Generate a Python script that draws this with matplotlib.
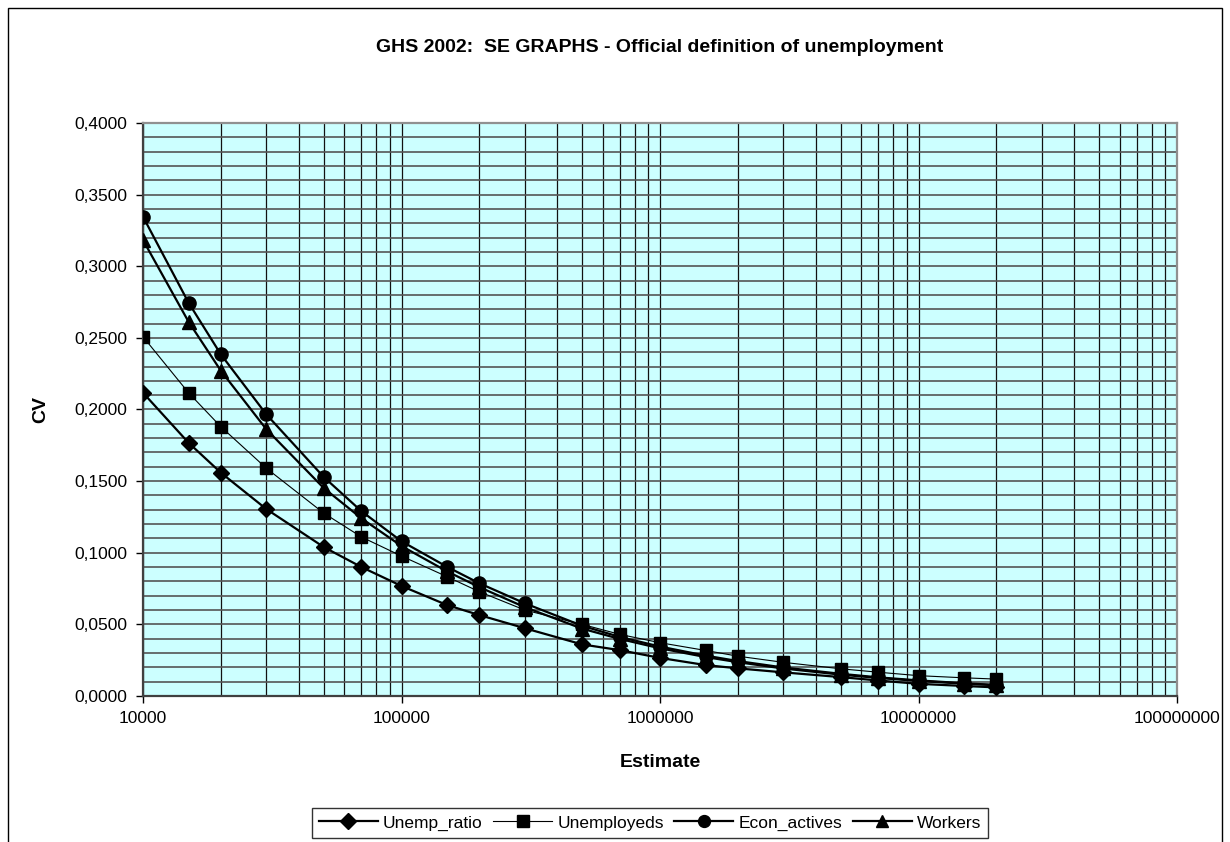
import matplotlib
matplotlib.use("Agg")
import matplotlib.pyplot as plt
from matplotlib.patches import Rectangle
from matplotlib.ticker import FixedLocator, FuncFormatter, LogLocator, MultipleLocator, NullFormatter

plt.rcParams["font.family"] = ["Liberation Sans", "DejaVu Sans"]

# ---------------------------------------------------------------------------
# Data
# ---------------------------------------------------------------------------
estimates = [10000, 15000, 20000, 30000, 50000, 70000, 100000, 150000, 200000,
             300000, 500000, 700000, 1000000, 1500000, 2000000, 3000000,
             5000000, 7000000, 10000000, 15000000, 20000000]

unemp_ratio = [0.2117, 0.1768, 0.1559, 0.1305, 0.1040, 0.0900, 0.0768, 0.0635,
               0.0565, 0.0473, 0.0360, 0.0320, 0.0266, 0.0216, 0.0193, 0.0165,
               0.0132, 0.0108, 0.0085, 0.0070, 0.0060]
unemployeds = [0.2508, 0.2117, 0.1880, 0.1590, 0.1277, 0.1110, 0.0977, 0.0833,
               0.0728, 0.0600, 0.0500, 0.0430, 0.0372, 0.0318, 0.0278, 0.0235,
               0.0190, 0.0166, 0.0142, 0.0127, 0.0118]
econ_actives = [0.3346, 0.2746, 0.2385, 0.1966, 0.1529, 0.1290, 0.1080, 0.0902,
                0.0787, 0.0647, 0.0490, 0.0412, 0.0345, 0.0282, 0.0244, 0.0199,
                0.0155, 0.0130, 0.0109, 0.0089, 0.0077]
workers = [0.3183, 0.2613, 0.2271, 0.1862, 0.1452, 0.1240, 0.1047, 0.0870,
           0.0760, 0.0620, 0.0470, 0.0398, 0.0333, 0.0272, 0.0236, 0.0192,
           0.0149, 0.0126, 0.0105, 0.0086, 0.0075]

x_ticks = [10000, 100000, 1000000, 10000000, 100000000]
y_ticks = [0.0, 0.05, 0.10, 0.15, 0.20, 0.25, 0.30, 0.35, 0.40]

# ---------------------------------------------------------------------------
# Figure
# ---------------------------------------------------------------------------
W, H = 1230, 842
fig = plt.figure(figsize=(W / 100, H / 100), dpi=100)
fig.patches.append(Rectangle((8 / W, -0.05), (1222 - 8) / W, (H - 8) / H + 0.05,
                             transform=fig.transFigure, fill=False,
                             edgecolor="black", lw=1.0, clip_on=False))

ax = fig.add_axes([143 / W, (H - 696) / H, (1177 - 143) / W, (696 - 123) / H])
ax.set_facecolor("#CCFFFF")

ax.plot(estimates, unemp_ratio, color="black", lw=1.6, marker="D", ms=8.5,
        label="Unemp_ratio", zorder=5)
ax.plot(estimates, unemployeds, color="black", lw=0.8, marker="s", ms=9,
        label="Unemployeds", zorder=5)
ax.plot(estimates, econ_actives, color="black", lw=1.6, marker="o", ms=9.5,
        label="Econ_actives", zorder=5)
ax.plot(estimates, workers, color="black", lw=1.6, marker="^", ms=9.5,
        label="Workers", zorder=5)

ax.set_xscale("log")
ax.set_xlim(10000, 100000000)
ax.set_ylim(0, 0.4)

ax.xaxis.set_major_locator(FixedLocator(x_ticks))
ax.xaxis.set_major_formatter(FuncFormatter(lambda v, p: f"{int(round(v))}"))
ax.xaxis.set_minor_locator(LogLocator(base=10, subs=range(2, 10), numticks=20))
ax.xaxis.set_minor_formatter(NullFormatter())
ax.yaxis.set_major_locator(FixedLocator(y_ticks))
ax.yaxis.set_major_formatter(FuncFormatter(lambda v, p: f"{v:.4f}".replace(".", ",")))
ax.yaxis.set_minor_locator(MultipleLocator(0.01))

ax.tick_params(which="major", direction="out", length=5, width=1,
               labelsize=12.5, color="black", pad=6)
ax.tick_params(which="minor", length=0)

ax.grid(axis="y", which="both", color="#555555", lw=1.2, zorder=1)
ax.grid(axis="x", which="both", color="#111111", lw=0.9, zorder=1)
ax.set_axisbelow(True)

for side in ("left", "bottom"):
    ax.spines[side].set_color("#404040")
    ax.spines[side].set_linewidth(1.6)
for side in ("top", "right"):
    ax.spines[side].set_color("#909090")
    ax.spines[side].set_linewidth(1.6)

fig.text(660 / W, 1 - 47 / H, "GHS 2002:  SE GRAPHS - Official definition of unemployment",
         ha="center", va="center", fontsize=14, fontweight="bold")
ax.set_xlabel("Estimate", fontsize=14, fontweight="bold", labelpad=20)
ax.set_ylabel("CV", fontsize=14, fontweight="bold", labelpad=18)

leg = fig.legend(loc="center", bbox_to_anchor=(650 / W, 1 - 823 / H), ncol=4,
                 fontsize=12.5, frameon=True, fancybox=False, edgecolor="black",
                 handlelength=3.4, columnspacing=0.6, handletextpad=0.3,
                 borderpad=0.4, markerscale=0.9)
leg.get_frame().set_linewidth(1.0)

fig.savefig("out.png", dpi=100)
